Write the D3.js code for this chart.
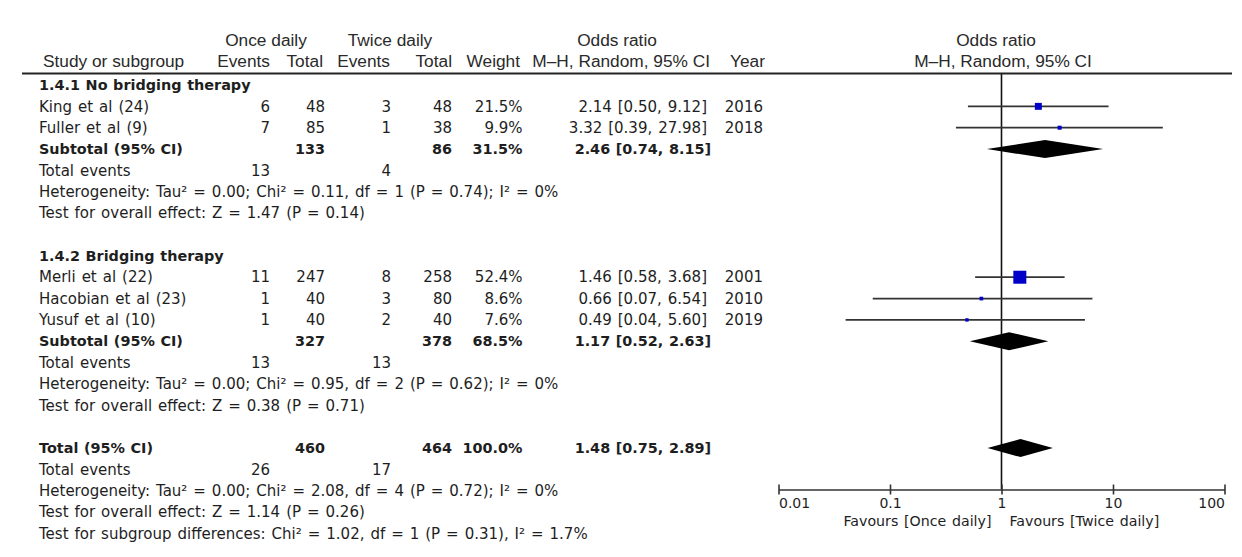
<!DOCTYPE html>
<html><head><meta charset="utf-8">
<script src="https://cdn.jsdelivr.net/npm/d3@7"></script>
<style>body{margin:0;background:#fff}</style>
</head><body><svg id="c" width="1242" height="557"></svg>
<script>
// ---------- data ----------
const studies = ["King et al (24)","Fuller et al (9)","Merli et al (22)","Hacobian et al (23)","Yusuf et al (10)"];
const subgroupOf = [0,0,1,1,1];
const onceEvents = [6,7,11,1,1];
const onceTotal = [48,85,247,40,40];
const twiceEvents = [3,1,8,3,2];
const twiceTotal = [48,38,258,80,40];
const weights = [21.5,9.9,52.4,8.6,7.6];
const orEst = [2.14,3.32,1.46,0.66,0.49];
const orLo = [0.50,0.39,0.58,0.07,0.04];
const orHi = [9.12,27.98,3.68,6.54,5.60];
const years = [2016,2018,2001,2010,2019];

const subgroupNames = ["1.4.1 No bridging therapy","1.4.2 Bridging therapy"];
const subOnceTotal = [133,327];
const subTwiceTotal = [86,378];
const subWeight = [31.5,68.5];
const subOr = [2.46,1.17];
const subLo = [0.74,0.52];
const subHi = [8.15,2.63];
const subOnceEvents = [13,13];
const subTwiceEvents = [4,13];
const subHet = ["Heterogeneity: Tau² = 0.00; Chi² = 0.11, df = 1 (P = 0.74); I² = 0%",
                "Heterogeneity: Tau² = 0.00; Chi² = 0.95, df = 2 (P = 0.62); I² = 0%"];
const subTest = ["Test for overall effect: Z = 1.47 (P = 0.14)","Test for overall effect: Z = 0.38 (P = 0.71)"];

const overallTotals = [460,464];      // once, twice
const overallEvents = [26,17];        // once, twice
const overallWeight = [100.0];
const overallOr = [1.48,0.75,2.89];   // est, lo, hi
const overallHet = "Heterogeneity: Tau² = 0.00; Chi² = 2.08, df = 4 (P = 0.72); I² = 0%";
const overallTest = "Test for overall effect: Z = 1.14 (P = 0.26)";
const subgroupDiff = "Test for subgroup differences: Chi² = 1.02, df = 1 (P = 0.31), I² = 1.7%";

const axisTicks = [0.01,0.1,1,10,100];
const axisTickLabels = ["0.01","0.1","1","10","100"];
const favours = ["Favours [Once daily]","Favours [Twice daily]"];

// ---------- layout ----------
const svg = d3.select("#c");
const HF = "'Liberation Sans', Arial, sans-serif";
const BF = "'DejaVu Sans', Verdana, sans-serif";
const BS = 15, BBS = 14.4, HS = 17.3;
const TXT = "#1e1e1e";

const col = {name:39, e1:270, t1:325, e2:391, t2:452, w:522.5, or:707, orb:711, yr:763};
const f2 = d3.format(".2f"), f1 = d3.format(".1f");
const orTxt = (e,l,h)=>`${f2(e)} [${f2(l)}, ${f2(h)}]`;

// rows
const rows = [];
subgroupNames.forEach((g,gi)=>{
  rows.push({type:"group", gi});
  studies.forEach((s,i)=>{ if(subgroupOf[i]===gi) rows.push({type:"study", i}); });
  rows.push({type:"subtotal", gi});
  rows.push({type:"events", gi});
  rows.push({type:"het", gi});
  rows.push({type:"test", gi});
  rows.push({type:"blank"});
});
rows.push({type:"total"});
rows.push({type:"tevents"});
rows.push({type:"thet"});
rows.push({type:"ttest"});
rows.push({type:"tdiff"});

const rowY = d3.scaleLinear().domain([0, rows.length-1]).range([85, 533.5]);
const x = d3.scaleLog().domain([0.01,100]).range([778.5, 1224.5]);
const sq = d3.scalePow().exponent(0.7).domain([0, d3.max(weights)]).range([0, 13]);

function txt(xp, y, s, anchor, bold, font, size, color){
  const isBody = !font;
  return svg.append("text").attr("x", xp).attr("y", y).attr("dy","0.35em")
    .attr("text-anchor", anchor||"start")
    .attr("font-family", font||BF).attr("font-size", size||(bold?BBS:BS))
    .attr("font-weight", bold?"bold":"normal")
    .attr("word-spacing", isBody ? (bold?0.6:1.2) : 0)
    .attr("fill", color||TXT).text(s);
}

// header
const hc = "#2a2a2a";
txt(266, 40, "Once daily", "middle", false, HF, HS, hc);
txt(390, 40, "Twice daily", "middle", false, HF, HS, hc);
txt(617, 40, "Odds ratio", "middle", false, HF, HS, hc);
txt(43, 61, "Study or subgroup", "start", false, HF, HS, hc);
txt(270, 61, "Events", "end", false, HF, HS, hc);
txt(323, 61, "Total", "end", false, HF, HS, hc);
txt(390, 61, "Events", "end", false, HF, HS, hc);
txt(452, 61, "Total", "end", false, HF, HS, hc);
txt(520, 61, "Weight", "end", false, HF, HS, hc);
txt(710, 61, "M\u2013H, Random, 95% CI", "end", false, HF, HS, hc);
txt(730, 61, "Year", "start", false, HF, HS, hc);
txt(996, 40, "Odds ratio", "middle", false, HF, HS, hc);
txt(1003, 61, "M\u2013H, Random, 95% CI", "middle", false, HF, HS, hc);

svg.append("line").attr("x1",22).attr("x2",1232).attr("y1",73.5).attr("y2",73.5)
  .attr("stroke","#222").attr("stroke-width",2);

// vertical null line
svg.append("line").attr("x1",x(1)).attr("x2",x(1)).attr("y1",74).attr("y2",489.5)
  .attr("stroke","#111").attr("stroke-width",1.6);

const diamond = (e,l,h,y)=>`M${x(l)},${y}L${x(e)},${y-9}L${x(h)},${y}L${x(e)},${y+9}Z`;

rows.forEach((r,ri)=>{
  const y = rowY(ri);
  switch(r.type){
    case "group": txt(col.name, y, subgroupNames[r.gi], "start", true); break;
    case "study": {
      const i=r.i;
      txt(col.name, y, studies[i]);
      txt(col.e1, y, onceEvents[i], "end");
      txt(col.t1, y, onceTotal[i], "end");
      txt(col.e2, y, twiceEvents[i], "end");
      txt(col.t2, y, twiceTotal[i], "end");
      txt(col.w, y, f1(weights[i])+"%", "end");
      txt(col.or, y, orTxt(orEst[i],orLo[i],orHi[i]), "end");
      txt(col.yr, y, years[i], "end");
      svg.append("line").attr("x1",x(orLo[i])).attr("x2",x(Math.min(orHi[i],100))).attr("y1",y).attr("y2",y)
        .attr("stroke","#333").attr("stroke-width",1.7);
      const s = sq(weights[i]);
      svg.append("rect").attr("x",x(orEst[i])-s/2).attr("y",y-s/2).attr("width",s).attr("height",s)
        .attr("fill","#0000c8");
      break;}
    case "subtotal": {
      const g=r.gi;
      txt(col.name, y, "Subtotal (95% CI)", "start", true);
      txt(col.t1, y, subOnceTotal[g], "end", true);
      txt(col.t2, y, subTwiceTotal[g], "end", true);
      txt(col.w, y, f1(subWeight[g])+"%", "end", true);
      txt(col.orb, y, orTxt(subOr[g],subLo[g],subHi[g]), "end", true);
      svg.append("path").attr("d", diamond(subOr[g],subLo[g],subHi[g],y)).attr("fill","#000");
      break;}
    case "events": {
      const g=r.gi;
      txt(col.name, y, "Total events");
      txt(col.e1, y, subOnceEvents[g], "end");
      txt(col.e2, y, subTwiceEvents[g], "end");
      break;}
    case "het": txt(col.name, y, subHet[r.gi]); break;
    case "test": txt(col.name, y, subTest[r.gi]); break;
    case "total":
      txt(col.name, y, "Total (95% CI)", "start", true);
      txt(col.t1, y, overallTotals[0], "end", true);
      txt(col.t2, y, overallTotals[1], "end", true);
      txt(col.w, y, f1(overallWeight[0])+"%", "end", true);
      txt(col.orb, y, orTxt(overallOr[0],overallOr[1],overallOr[2]), "end", true);
      svg.append("path").attr("d", diamond(overallOr[0],overallOr[1],overallOr[2],y)).attr("fill","#000");
      break;
    case "tevents":
      txt(col.name, y, "Total events");
      txt(col.e1, y, overallEvents[0], "end");
      txt(col.e2, y, overallEvents[1], "end");
      break;
    case "thet": txt(col.name, y, overallHet); break;
    case "ttest": txt(col.name, y, overallTest); break;
    case "tdiff": txt(col.name, y, subgroupDiff); break;
  }
});

// axis
const axY = 489.5;
const ax = svg.append("g").attr("transform",`translate(0,${axY})`)
  .call(d3.axisBottom(x).tickValues(axisTicks).tickFormat((d,i)=>axisTickLabels[i]).tickSize(5).tickSizeOuter(0));
ax.select(".domain").attr("stroke","#333").attr("stroke-width",1.6);
ax.selectAll(".tick line").attr("stroke","#333").attr("stroke-width",1.6).attr("y1",-5).attr("y2",5);
ax.selectAll(".tick text").attr("font-family",BF).attr("font-size",14).attr("fill",TXT).attr("y",9)
  .attr("text-anchor",(d,i)=> i===0?"start":(i===axisTicks.length-1?"end":"middle"));
txt(x(1)-10, 521, favours[0], "end", false, BF, 14.2).attr("word-spacing",1.2);
txt(x(1)+8, 521, favours[1], "start", false, BF, 14.2).attr("word-spacing",1.2);
</script></body></html>
